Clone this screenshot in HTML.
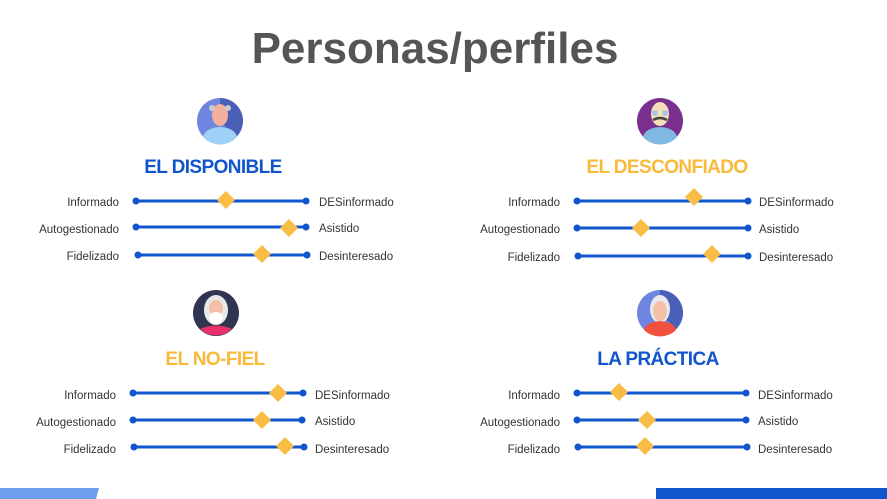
<!DOCTYPE html>
<html><head><meta charset="utf-8"><style>
html,body{margin:0;padding:0;background:#fff;}
svg{display:block;}
text{font-family:"Liberation Sans",sans-serif;}
.l{font-size:11.5px;fill:#333;}
.t{font-size:19px;font-weight:bold;letter-spacing:-0.6px;}
</style></head><body>
<svg width="887" height="499" viewBox="0 0 887 499" xmlns="http://www.w3.org/2000/svg">
<rect width="887" height="499" fill="#fff"/>
<text x="435" y="63" text-anchor="middle" font-size="44" font-weight="bold" fill="#555">Personas/perfiles</text>

<g>
<circle cx="220" cy="121" r="23" fill="#6f86e0"/>
<path d="M220 98 A23 23 0 0 1 243 121 A23 23 0 0 1 236 137 L220 121Z" fill="#4a5fb8"/>
<path d="M203 137 Q205 128 220 127 Q235 128 237 137 A23 23 0 0 1 203 137Z" fill="#9fd0f5"/>
<ellipse cx="220" cy="115" rx="8" ry="11" fill="#f4b09c"/>
<circle cx="212" cy="108" r="3" fill="#ccc"/><circle cx="228" cy="108" r="3" fill="#ccc"/>
</g>
<g>
<circle cx="660" cy="121" r="23" fill="#7b2f8e"/>
<path d="M643 137 Q645 128 660 127 Q675 128 677 137 A23 23 0 0 1 643 137Z" fill="#7fb8e0"/>
<ellipse cx="660" cy="114" rx="9" ry="12" fill="#f5deb8"/>
<circle cx="655" cy="113" r="3" fill="#a8c8e8"/><circle cx="665" cy="113" r="3" fill="#a8c8e8"/>
<path d="M653 120 Q660 116 667 120" stroke="#444" stroke-width="2.5" fill="none"/>
</g>
<g>
<circle cx="216" cy="313" r="23" fill="#2f3550"/>
<path d="M200 329 Q216 322 232 329 A23 23 0 0 1 200 329Z" fill="#e8306a"/>
<ellipse cx="216" cy="310" rx="12" ry="15" fill="#e8e8e8"/>
<ellipse cx="216" cy="308" rx="7" ry="8" fill="#f4c0a8"/>
<ellipse cx="216" cy="318" rx="7" ry="6" fill="#fff"/>
</g>
<g>
<circle cx="660" cy="313" r="23" fill="#6f86e0"/>
<path d="M660 290 A23 23 0 0 1 683 313 A23 23 0 0 1 676 329 L660 313Z" fill="#4a5fb8"/>
<ellipse cx="660" cy="309" rx="10" ry="14" fill="#e8e8ee"/>
<ellipse cx="660" cy="311" rx="7" ry="10" fill="#f5c0a8"/>
<path d="M644 330 Q646 322 660 321 Q674 322 676 330 A23 23 0 0 1 644 330Z" fill="#f0503c"/>
</g>

<text class="t" x="213" y="173" text-anchor="middle" fill="#1155cc">EL DISPONIBLE</text>
<text class="t" x="667" y="173" text-anchor="middle" fill="#f9b93a">EL DESCONFIADO</text>
<text class="t" x="215" y="365" text-anchor="middle" fill="#f9b93a">EL NO-FIEL</text>
<text class="t" x="658" y="365" text-anchor="middle" fill="#1155cc">LA PRÁCTICA</text>

<defs>
<g id="d"><path d="M0 -9 L9 0 L0 9 L-9 0Z" fill="#f9bc45"/></g>
</defs>
<g stroke="#1155cc" stroke-width="3" fill="#1155cc">
<line x1="136" y1="201" x2="306" y2="201"/><circle cx="136" cy="201" r="3.5" stroke="none"/><circle cx="306" cy="201" r="3.5" stroke="none"/>
<line x1="136" y1="227" x2="306" y2="227"/><circle cx="136" cy="227" r="3.5" stroke="none"/><circle cx="306" cy="227" r="3.5" stroke="none"/>
<line x1="138" y1="255" x2="307" y2="255"/><circle cx="138" cy="255" r="3.5" stroke="none"/><circle cx="307" cy="255" r="3.5" stroke="none"/>
<line x1="577" y1="201" x2="748" y2="201"/><circle cx="577" cy="201" r="3.5" stroke="none"/><circle cx="748" cy="201" r="3.5" stroke="none"/>
<line x1="577" y1="228" x2="748" y2="228"/><circle cx="577" cy="228" r="3.5" stroke="none"/><circle cx="748" cy="228" r="3.5" stroke="none"/>
<line x1="578" y1="256" x2="748" y2="256"/><circle cx="578" cy="256" r="3.5" stroke="none"/><circle cx="748" cy="256" r="3.5" stroke="none"/>
<line x1="133" y1="393" x2="303" y2="393"/><circle cx="133" cy="393" r="3.5" stroke="none"/><circle cx="303" cy="393" r="3.5" stroke="none"/>
<line x1="133" y1="420" x2="302" y2="420"/><circle cx="133" cy="420" r="3.5" stroke="none"/><circle cx="302" cy="420" r="3.5" stroke="none"/>
<line x1="134" y1="447" x2="304" y2="447"/><circle cx="134" cy="447" r="3.5" stroke="none"/><circle cx="304" cy="447" r="3.5" stroke="none"/>
<line x1="577" y1="393" x2="746" y2="393"/><circle cx="577" cy="393" r="3.5" stroke="none"/><circle cx="746" cy="393" r="3.5" stroke="none"/>
<line x1="577" y1="420" x2="746" y2="420"/><circle cx="577" cy="420" r="3.5" stroke="none"/><circle cx="746" cy="420" r="3.5" stroke="none"/>
<line x1="578" y1="447" x2="747" y2="447"/><circle cx="578" cy="447" r="3.5" stroke="none"/><circle cx="747" cy="447" r="3.5" stroke="none"/>
</g>
<use href="#d" x="226" y="200"/><use href="#d" x="289" y="228"/><use href="#d" x="262" y="254"/>
<use href="#d" x="694" y="197"/><use href="#d" x="641" y="228"/><use href="#d" x="712" y="254"/>
<use href="#d" x="278" y="393"/><use href="#d" x="262" y="420"/><use href="#d" x="285" y="446"/>
<use href="#d" x="619" y="392"/><use href="#d" x="647" y="420"/><use href="#d" x="645" y="446"/>

<g class="l">
<text x="119" y="206" text-anchor="end">Informado</text>
<text x="119" y="233" text-anchor="end">Autogestionado</text>
<text x="119" y="260" text-anchor="end">Fidelizado</text>
<text x="319" y="206">DESinformado</text>
<text x="319" y="232">Asistido</text>
<text x="319" y="260">Desinteresado</text>
<text x="560" y="206" text-anchor="end">Informado</text>
<text x="560" y="233" text-anchor="end">Autogestionado</text>
<text x="560" y="261" text-anchor="end">Fidelizado</text>
<text x="759" y="206">DESinformado</text>
<text x="759" y="233">Asistido</text>
<text x="759" y="261">Desinteresado</text>
<text x="116" y="399" text-anchor="end">Informado</text>
<text x="116" y="426" text-anchor="end">Autogestionado</text>
<text x="116" y="453" text-anchor="end">Fidelizado</text>
<text x="315" y="399">DESinformado</text>
<text x="315" y="425">Asistido</text>
<text x="315" y="453">Desinteresado</text>
<text x="560" y="399" text-anchor="end">Informado</text>
<text x="560" y="426" text-anchor="end">Autogestionado</text>
<text x="560" y="453" text-anchor="end">Fidelizado</text>
<text x="758" y="399">DESinformado</text>
<text x="758" y="425">Asistido</text>
<text x="758" y="453">Desinteresado</text>
</g>

<path d="M0 488 L99 488 L96 499 L0 499Z" fill="#6d9eeb"/>
<rect x="656" y="488" width="231" height="11" fill="#1155cc"/>
</svg>
</body></html>
